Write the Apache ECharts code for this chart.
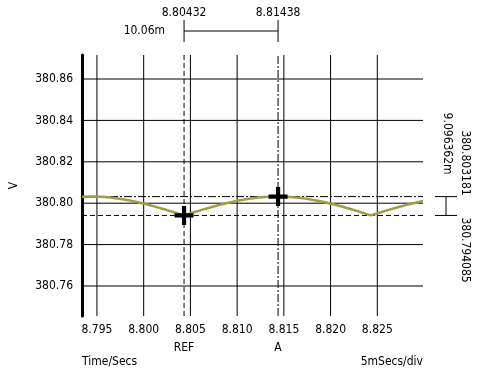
<!DOCTYPE html>
<html><head><meta charset="utf-8">
<script src="https://cdn.jsdelivr.net/npm/echarts@6/dist/echarts.min.js"></script>
<style>html,body{margin:0;padding:0;background:#fff}#c{width:481px;height:369px}</style>
</head><body><div id="c"></div>
<script>
var timeValues = [8.7934, 8.7944, 8.7954, 8.7964, 8.7974, 8.7984, 8.7994, 8.8004, 8.8014, 8.8024, 8.8034, 8.80432,
  8.8053, 8.8063, 8.8073, 8.8083, 8.8093, 8.8103, 8.8113, 8.8123, 8.8133, 8.81438, 8.8153, 8.8163, 8.8173, 8.8183,
  8.8193, 8.8203, 8.8213, 8.8223, 8.8233, 8.8243, 8.8253, 8.8263, 8.8273, 8.8283, 8.8293, 8.8299];
var voltValues = [380.80309, 380.80319, 380.80306, 380.80271, 380.80215, 380.80139, 380.80045, 380.79935, 380.79812,
  380.79680, 380.79540, 380.794085, 380.79548, 380.79687, 380.79819, 380.79941, 380.80050, 380.80143, 380.80218,
  380.80274, 380.80307, 380.803181, 380.80308, 380.80275, 380.80221, 380.80147, 380.80055, 380.79946, 380.79825,
  380.79693, 380.79555, 380.79412, 380.79548, 380.79687, 380.79819, 380.79941, 380.80050, 380.80108];
var xTicks = [8.795, 8.800, 8.805, 8.810, 8.815, 8.820, 8.825];
var yTicks = [380.76, 380.78, 380.80, 380.82, 380.84, 380.86];
var cursorNames = ['REF', 'A'];
var cursorX = [8.80432, 8.81438];
var cursorY = [380.794085, 380.803181];
var cursorXText = ['8.80432', '8.81438'];
var cursorYText = ['380.794085', '380.803181'];
var deltaXText = '10.06m';
var deltaYText = '9.096362m';
var xRange = [8.79340, 8.82989];
var yRange = [380.7455, 380.8716];

var FONT = "'DejaVu Sans Condensed','DejaVu Sans',sans-serif";
var chart = echarts.init(document.getElementById('c'), null, {renderer: 'canvas'});

function seg(points, style, z) {
  return {type: 'line', data: points, showSymbol: false, silent: true, z: z,
    lineStyle: style, animation: false};
}
var series = [];
var gridStyle = {color: '#000', width: 1, type: 'solid'};
xTicks.forEach(function (v) { series.push(seg([[v, yRange[0]], [v, yRange[1]]], gridStyle, 1)); });
yTicks.forEach(function (v) { series.push(seg([[xRange[0], v], [xRange[1], v]], gridStyle, 1)); });
var dashed = {color: '#000', width: 1, type: [5, 3]};
var dashDot = {color: '#000', width: 1, type: [8, 2, 2, 2]};
series.push(seg([[cursorX[0], yRange[0]], [cursorX[0], yRange[1]]], dashed, 2));
series.push(seg([[xRange[0], cursorY[0]], [xRange[1], cursorY[0]]], dashed, 2));
series.push(seg([[cursorX[1], yRange[0]], [cursorX[1], yRange[1]]], dashDot, 2));
series.push(seg([[xRange[0], cursorY[1]], [xRange[1], cursorY[1]]], dashDot, 2));
series.push({
  type: 'line', z: 3, showSymbol: false, silent: true,
  data: timeValues.map(function (t, i) { return [t, voltValues[i]]; }),
  lineStyle: {color: '#a09c45', width: 2.5}
});
series.push({
  type: 'scatter', z: 4, symbol: 'path://M7,0H11V7H18V11H11V18H7V11H0V7H7Z', symbolSize: 19, silent: true,
  itemStyle: {color: '#000', opacity: 1},
  data: cursorX.map(function (x, i) { return [x, cursorY[i]]; })
});

chart.setOption({
  animation: false,
  grid: {left: 80, right: 58, top: 55, bottom: 53},
  xAxis: {
    type: 'value', min: xRange[0], max: xRange[1],
    axisLine: {show: false}, axisTick: {show: false}, splitLine: {show: false},
    axisLabel: {customValues: xTicks, formatter: function (v) { return v.toFixed(3); },
      color: '#000', fontFamily: FONT, fontSize: 12, margin: 8}
  },
  yAxis: {
    type: 'value', min: yRange[0], max: yRange[1],
    name: 'V', nameLocation: 'middle', nameGap: 62, nameRotate: 90,
    nameTextStyle: {color: '#000', fontFamily: FONT, fontSize: 12},
    axisLine: {show: true, lineStyle: {color: '#000', width: 3}},
    axisTick: {show: false}, splitLine: {show: false},
    axisLabel: {customValues: yTicks, formatter: function (v) { return v.toFixed(2); },
      color: '#000', fontFamily: FONT, fontSize: 12, margin: 9}
  },
  series: series
});

function px(x, y) { return chart.convertToPixel({gridIndex: 0}, [x, y]); }
var p0 = px(cursorX[0], cursorY[0]);
var p1 = px(cursorX[1], cursorY[1]);
var gridRect = chart.getModel().getComponent('grid').coordinateSystem.getRect();
var txt = {fill: '#000', font: '12px ' + FONT};
function T(o) { return Object.assign({}, txt, o); }
var g = [];
g.push({type: 'line', shape: {x1: p0[0], y1: 31, x2: p1[0], y2: 31}, style: {stroke: '#000', lineWidth: 1}});
g.push({type: 'line', shape: {x1: p0[0], y1: 20, x2: p0[0], y2: 42}, style: {stroke: '#000', lineWidth: 1}});
g.push({type: 'line', shape: {x1: p1[0], y1: 20, x2: p1[0], y2: 42}, style: {stroke: '#000', lineWidth: 1}});
g.push({type: 'text', x: p0[0], y: 13, style: T({text: cursorXText[0], align: 'center', verticalAlign: 'middle'})});
g.push({type: 'text', x: p1[0], y: 13, style: T({text: cursorXText[1], align: 'center', verticalAlign: 'middle'})});
g.push({type: 'text', x: p0[0] - 19, y: 31, style: T({text: deltaXText, align: 'right', verticalAlign: 'middle'})});
g.push({type: 'text', x: p0[0], y: 348, style: T({text: cursorNames[0], align: 'center', verticalAlign: 'middle'})});
g.push({type: 'text', x: p1[0], y: 348, style: T({text: cursorNames[1], align: 'center', verticalAlign: 'middle'})});
g.push({type: 'text', x: gridRect.x, y: 362, style: T({text: 'Time/Secs', align: 'left', verticalAlign: 'middle'})});
g.push({type: 'text', x: gridRect.x + gridRect.width, y: 362, style: T({text: '5mSecs/div', align: 'right', verticalAlign: 'middle'})});
var bx = 446;
g.push({type: 'line', shape: {x1: bx, y1: p1[1], x2: bx, y2: p0[1]}, style: {stroke: '#000', lineWidth: 1}});
g.push({type: 'line', shape: {x1: bx - 11, y1: p1[1], x2: bx + 11, y2: p1[1]}, style: {stroke: '#000', lineWidth: 1}});
g.push({type: 'line', shape: {x1: bx - 11, y1: p0[1], x2: bx + 11, y2: p0[1]}, style: {stroke: '#000', lineWidth: 1}});
g.push({type: 'text', x: 465, y: p1[1] - 1, rotation: -Math.PI / 2, style: T({text: cursorYText[1], align: 'right', verticalAlign: 'middle'})});
g.push({type: 'text', x: 465, y: p0[1] + 2, rotation: -Math.PI / 2, style: T({text: cursorYText[0], align: 'left', verticalAlign: 'middle'})});
g.push({type: 'text', x: 447, y: p1[1] - 22, rotation: -Math.PI / 2, style: T({text: deltaYText, align: 'right', verticalAlign: 'middle'})});
chart.setOption({graphic: g});
</script></body></html>
